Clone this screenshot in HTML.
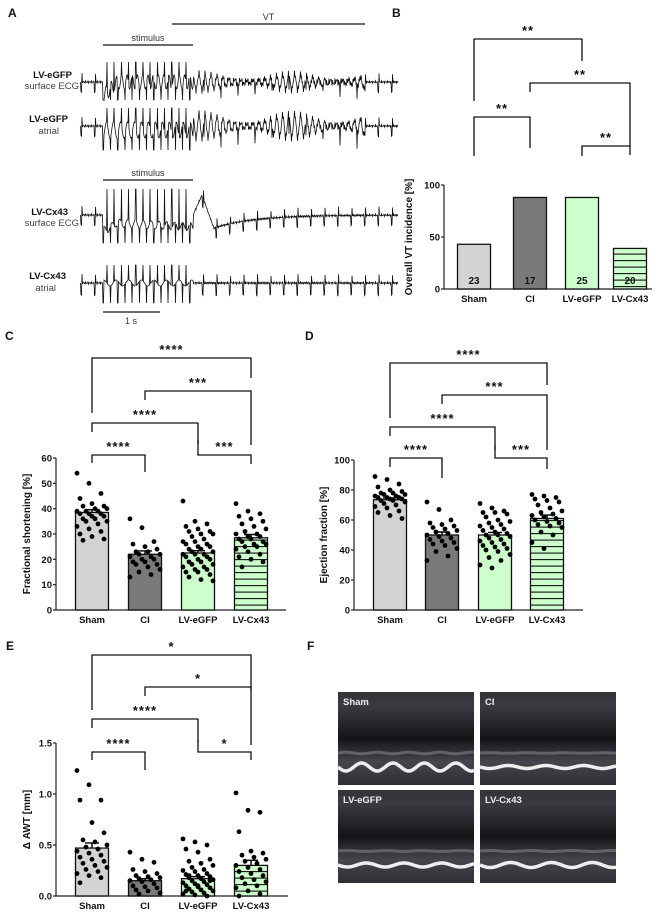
<!DOCTYPE html>
<html><head><meta charset="utf-8"><style>
html,body{margin:0;padding:0;background:#fff;}
svg{display:block;font-family:"Liberation Sans",Arial,sans-serif;}
</style></head><body>
<svg id="fig" width="666" height="915" viewBox="0 0 666 915" xmlns="http://www.w3.org/2000/svg">
<defs>
<pattern id="hatch" width="6" height="6.5" patternUnits="userSpaceOnUse">
<rect width="6" height="6.5" fill="#ccffcc"/><line x1="0" y1="0.6" x2="6" y2="0.6" stroke="#111" stroke-width="1.1"/>
</pattern>
<linearGradient id="echoBg" x1="0" y1="0" x2="0" y2="1">
<stop offset="0" stop-color="#333338"/><stop offset="0.15" stop-color="#3a3a40"/><stop offset="0.5" stop-color="#141418"/><stop offset="0.75" stop-color="#45454c"/><stop offset="1" stop-color="#2e2e34"/>
</linearGradient>
</defs>
<g id="root"></g>
</svg>
<script>
// ---------- chart data ----------
const groups = ["Sham","CI","LV-eGFP","LV-Cx43"];
const vtIncidence = [43, 88, 88, 39];
const vtN = ["23","17","25","20"];
const fsMeans = [38.5, 22, 22.5, 28.5];
const fsSem = [1.1, 1.3, 0.9, 1.3];
const fsSham = [54,50,46,44,42,41,41,40,40,39,39,39,38,38,38,37,37,36,36,35,35,34,33,32,31,30,29,28,27.5];
const fsCI = [36,32.5,27,26,25,24,23,23,22,22,21,21,20,20,19,19,18,18,17,16,15,14,13];
const fsEGFP = [43,35,34,33,32,31,31,30,30,29,28,27,27,26,26,25,25,24,24,23,23,22,22,22,21,21,20,20,19,19,18,18,17,17,16,16,15,15,14,13,12,11.5];
const fsCx43 = [42,39,38,37,36,35,34,33,32,31,30,30,29,29,28,28,27,27,26,26,25,25,24,23,22,21,20,19,17];
const efMeans = [73.5, 50, 50, 61];
const efSem = [1.2, 2, 1.7, 2.3];
const efSham = [89,87,84,82,80,79,78,78,77,77,76,76,75,75,75,74,74,73,73,72,71,70,69,68,66,65,63,61];
const efCI = [72,67,60,58,57,56,55,54,53,52,51,50,49,48,47,46,45,44,43,41,39,36,33];
const efEGFP = [71,68,66,65,65,64,62,60,59,58,57,56,55,54,53,52,51,50,50,49,48,47,46,45,44,43,42,41,40,39,37,35,33,30,28];
const efCx43 = [77,76,75,74,73,72,70,68,66,65,64,63,62,61,60,59,58,57,56,55,52,50,45,41];
const awtMeans = [0.47, 0.15, 0.17, 0.30];
const awtSem = [0.05, 0.02, 0.02, 0.05];
const awtSham = [1.23,1.09,0.94,0.94,0.72,0.62,0.55,0.53,0.50,0.48,0.46,0.44,0.42,0.40,0.38,0.36,0.34,0.32,0.30,0.28,0.26,0.24,0.22,0.20,0.18,0.13];
const awtCI = [0.43,0.36,0.33,0.26,0.24,0.22,0.20,0.19,0.18,0.17,0.16,0.15,0.14,0.12,0.10,0.09,0.08,0.06,0.05,0.03,0.02];
const awtEGFP = [0.56,0.53,0.50,0.46,0.43,0.36,0.34,0.32,0.30,0.28,0.26,0.25,0.24,0.22,0.21,0.20,0.19,0.18,0.17,0.16,0.15,0.14,0.13,0.12,0.11,0.10,0.09,0.08,0.07,0.06,0.05,0.04,0.03,0.02,0.01,0.0,0.05,0.1,0.15,0.2];
const awtCx43 = [1.01,0.84,0.82,0.63,0.44,0.42,0.40,0.38,0.36,0.34,0.32,0.30,0.28,0.26,0.24,0.22,0.20,0.18,0.16,0.14,0.12,0.10,0.08,0.05,0.02,0.0];
const fsTicks = [0,10,20,30,40,50,60];
const efTicks = [0,20,40,60,80,100];
const awtTicks = ["0.0","0.5","1.0","1.5"];
const vtTicks = [0,50,100];

const NS = "http://www.w3.org/2000/svg";
const root = document.getElementById("root");
function mk(tag, attrs, parent){ const e=document.createElementNS(NS,tag); for(const k in attrs) e.setAttribute(k,attrs[k]); (parent||root).appendChild(e); return e; }
function txt(s, x, y, size, opts, parent){ const a={x:x,y:y,"font-size":size,fill:"#111"}; Object.assign(a,opts||{}); const e=mk("text",a,parent); e.textContent=s; return e; }
const fills = ["#d3d3d3","#7a7a7a","#ccffcc","url(#hatch)"];

[["A",8,17],["B",392,17],["C",5,340],["D",305,340],["E",6,650],["F",307,650]].forEach(p=>{
  const t=txt(p[0],p[1],p[2],12,{"font-weight":"bold"});
  
  
});

function bracket(x1,x2,y,ylo1,ylo2,stars,g){
  const p=mk("path",{d:`M${x1},${ylo1} V${y} H${x2} V${ylo2}`,fill:"none",stroke:"#111","stroke-width":1.3},g);
  
  
  const t=txt(stars,(x1+x2)/2,y-4,13,{"text-anchor":"middle","font-weight":"bold","letter-spacing":"1"},g);
  
  
}

function panel(cfg){
  const g=mk("g",{});
  
  
  const y=v=>cfg.y0-(v-cfg.min)/(cfg.max-cfg.min)*(cfg.y0-cfg.yTop);
  const ax=mk("path",{d:`M${cfg.ax},${cfg.yTop} V${cfg.y0} H${cfg.axEnd}`,fill:"none",stroke:"#222","stroke-width":1.2},g);
  
  
  cfg.ticks.forEach(t=>{
    const v=parseFloat(t);
    mk("line",{x1:cfg.ax-3,x2:cfg.ax,y1:y(v),y2:y(v),stroke:"#222","stroke-width":1.2},g);
    const tl=txt(String(t),cfg.ax-4,y(v)+3.5,9.5,{"text-anchor":"end","font-weight":"bold"},g);
    
    
  });
  const yt=txt(cfg.title,0,0,10,{"text-anchor":"middle","font-weight":"bold",transform:`translate(${cfg.titleX},${(cfg.y0+cfg.yTop)/2}) rotate(-90)`},g);
  
  
  const bw=cfg.bw;
  groups.forEach((name,i)=>{
    const cx=cfg.bx[i];
    const top=y(cfg.means[i]);
    const r=mk("rect",{x:cx-bw/2,y:top,width:bw,height:cfg.y0-top,fill:fills[i],stroke:"#111","stroke-width":1.3},g);
    
    
    const l=txt(name,cx,cfg.y0+13,9.5,{"text-anchor":"middle","font-weight":"bold"},g);
    
    
    if(cfg.dots){
      cfg.dots[i].forEach((v,j)=>{
        const off=((j*37)%11-5)*3;
        const c=mk("circle",{cx:cx+off,cy:y(v),r:2.4,fill:"#000"},g);
        
        
      });
      const e1=y(cfg.means[i]+cfg.sem[i]);
      const eb=mk("path",{d:`M${cx},${top} V${e1} M${cx-7},${e1} H${cx+7}`,stroke:"#000","stroke-width":1.4,fill:"none"},g);
      
      
    }
    if(cfg.nLabels){
      const n=txt(cfg.nLabels[i],cx,cfg.y0-5,10,{"text-anchor":"middle","font-weight":"bold"},g);
      
      
    }
  });
  cfg.brackets.forEach(b=>bracket(cfg.bx[b[0]],cfg.bx[b[1]],b[2],b[3],b[4],b[5],g));
}

panel({name:"panel-b-vt-incidence",ax:444,axEnd:652,y0:289,yTop:185,min:0,max:100,ticks:vtTicks,title:"Overall VT incidence [%]",titleX:412,
  bx:[474,530,582,630],bw:33,means:vtIncidence,nLabels:vtN,
  brackets:[[0,2,39,101,61,"**"],[1,3,83,92,146,"**"],[0,1,117,156,148,"**"],[2,3,146,156,155,"**"]]});
panel({name:"panel-c-fractional-shortening",ax:56,axEnd:286,y0:610,yTop:458,min:0,max:60,ticks:fsTicks,title:"Fractional shortening [%]",titleX:30,
  bx:[92,145,198,251],bw:33,means:fsMeans,sem:fsSem,dots:[fsSham,fsCI,fsEGFP,fsCx43],
  brackets:[[0,3,358,413,378,"****"],[1,3,391,400,445,"***"],[0,2,423,432,444,"****"],[0,1,455,463,472,"****"],[2,3,455,440,464,"***"]]});
panel({name:"panel-d-ejection-fraction",ax:354,axEnd:583,y0:610,yTop:460,min:0,max:100,ticks:efTicks,title:"Ejection fraction [%]",titleX:327,
  bx:[390,442,495,547],bw:33,means:efMeans,sem:efSem,dots:[efSham,efCI,efEGFP,efCx43],
  brackets:[[0,3,363,418,385,"****"],[1,3,395,404,450,"***"],[0,2,427,436,450,"****"],[0,1,458,467,478,"****"],[2,3,458,445,469,"***"]]});
panel({name:"panel-e-delta-awt",ax:56,axEnd:288,y0:896,yTop:743,min:0,max:1.5,ticks:awtTicks,title:"Δ AWT [mm]",titleX:30,
  bx:[92,145,198,251],bw:33,means:awtMeans,sem:awtSem,dots:[awtSham,awtCI,awtEGFP,awtCx43],
  brackets:[[0,3,655,710,690,"*"],[1,3,687,696,745,"*"],[0,2,719,728,742,"****"],[0,1,752,760,770,"****"],[2,3,752,740,760,"*"]]});

// ---------- Panel A ECG traces ----------
function ecg(name,y0,kind){
  let d="";
  for(let x=80;x<=398;x+=0.5){
    let v=0;
    const n=Math.sin(x*7.3)*1.2+Math.sin(x*3.1)*0.8;
    if(x>=103&&x<=193){
      const k=Math.floor((x-103)/3.6), ph=(x-103)%3.6;
      if(kind===1) v = ph<0.6 ? (k%2?20:-18) : Math.sin(x*1.2)*7 + (x<118?-14*(1-(x-103)/15):0);
      if(kind===2) v = ph<0.6 ? (k%2?18:-24) : Math.sin(x*0.9)*8-4;
      if(kind===3) v = ph<0.6 ? (k%2?26:-28) : (x<115? -16+(x-103)*0.5 : -8+ (x-115)*-0.05)+Math.sin(x*0.8)*4;
      if(kind===4) v = ph<0.6 ? (k%2?18:-20) : Math.sin(x*0.5)*3;
    } else if(x>193 && x<365 && (kind===1||kind===2)){
      v = Math.sin(x*1.05)*(kind===1?8:12)*(0.6+0.4*Math.sin(x*0.07))+n*2;
      if(Math.abs((x%17))<0.5) v += kind===1?-12:-16;
    } else {
      const p=(x%13.5);
      v = p<0.6?(kind===4?-12:-10):(p<1.2?8:0);
      if(kind===3 && x>193){
        if(x<202) v += (x-193)*2.2;
        else if(x<214) v += 20-(x-202)*2.8;
        else v += -13*Math.exp(-(x-214)/40);
      }
      v += n*0.6;
    }
    d += (d?"L":"M")+x.toFixed(1)+","+(y0-v).toFixed(1);
  }
  const p=mk("path",{d:d,fill:"none",stroke:"#111","stroke-width":0.8});
  
  
}
ecg("trace-egfp-surface-ecg",82,1);
ecg("trace-egfp-atrial",126,2);
ecg("trace-cx43-surface-ecg",215,3);
ecg("trace-cx43-atrial",283,4);
const labA=[["LV-eGFP",72,78,true],["surface ECG",79,89,false],["LV-eGFP",68,122,true],["atrial",59,134,false],["LV-Cx43",68,215,true],["surface ECG",79,226,false],["LV-Cx43",66,279,true],["atrial",56,291,false]];
labA.forEach(l=>{
  const t=txt(l[0],l[1],l[2],9.5,{"text-anchor":"end","font-weight":l[3]?"bold":"normal",fill:l[3]?"#111":"#444"});
  
  
});
[[103,193,45,"stimulus"],[103,193,180,"stimulus"],[172,365,24,"VT"]].forEach(s=>{
  const ln=mk("line",{x1:s[0],x2:s[1],y1:s[2],y2:s[2],stroke:"#111","stroke-width":1.2});
  
  
  const t=txt(s[3],(s[0]+s[1])/2,s[2]-4,9,{"text-anchor":"middle",fill:"#333"});
  
  
});
const sb=mk("line",{x1:103,x2:160,y1:312,y2:312,stroke:"#111","stroke-width":1.2});


const sbt=txt("1 s",131,324,9,{"text-anchor":"middle",fill:"#333"});



// ---------- Panel F echo images ----------
const echoes=[["Sham",338,692,8,5],["CI",480,692,3,6],["LV-eGFP",338,790,4,6],["LV-Cx43",480,790,5,6.5]];
echoes.forEach(e=>{
  const g=mk("g",{});
  
  
  mk("rect",{x:e[1],y:e[2],width:136,height:93,fill:"url(#echoBg)"},g);
  let d="",d2="";
  for(let x=e[1];x<=e[1]+136;x+=1){
    const yy=e[2]+75+Math.sin((x-e[1])/e[4])*e[3]*0.5;
    d+=(d?"L":"M")+x+","+yy.toFixed(1);
    d2+=(d2?"L":"M")+x+","+(yy-14-Math.sin((x-e[1])/e[4])*e[3]*0.6).toFixed(1);
  }
  mk("path",{d:d2,fill:"none",stroke:"#777","stroke-width":3,opacity:0.7},g);
  mk("path",{d:d,fill:"none",stroke:"#eee","stroke-width":3.5},g);
  const t=txt(e[0],e[1]+5,e[2]+13,9.5,{"font-weight":"bold",fill:"#eee"},g);
  
  
});
</script>
</body></html>
